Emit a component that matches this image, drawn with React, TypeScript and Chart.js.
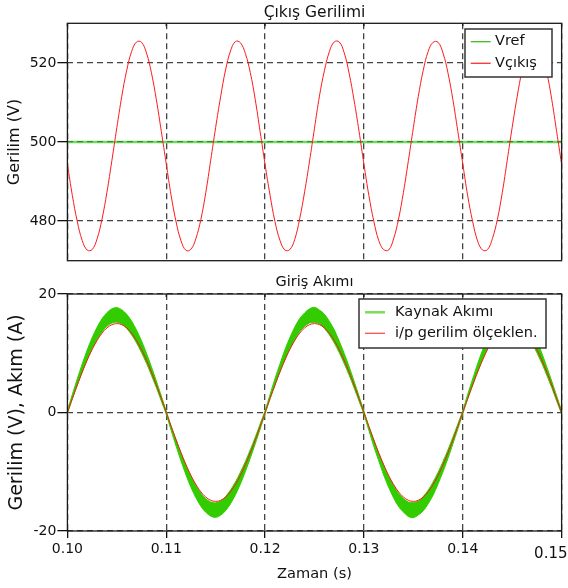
import { useEffect, useRef } from "react";
import { Chart, registerables } from "chart.js";

Chart.register(...registerables);

// ---------- data ----------
const T_START = 0.1;
const T_STEP = 0.0005;
const X_TICKS = [0.1, 0.11, 0.12, 0.13, 0.14, 0.15];
const TOP_Y_TICKS = [480, 500, 520];
const BOT_Y_TICKS = [-20, 0, 20];

const VREF_T = [0.1, 0.15];
const VREF = [500, 500];

// Output voltage (V), sampled every 0.5 ms from 0.100 s to 0.150 s
const VOUT = [
  494.4, 486.5, 479.9, 475.1, 472.7, 472.8, 475.5, 480.5, 487.3, 495.3,
  503.6, 511.5, 518.1, 522.9, 525.3, 525.2, 522.5, 517.5, 510.7, 502.7,
  494.5, 486.4, 479.8, 475.0, 472.6, 472.9, 475.6, 480.4, 487.2, 495.4,
  503.7, 511.4, 518.2, 523.0, 525.4, 525.1, 522.4, 517.6, 510.8, 502.6,
  494.3, 486.6, 479.9, 475.2, 472.7, 472.8, 475.4, 480.6, 487.4, 495.2,
  503.5, 511.6, 518.0, 522.8, 525.3, 525.3, 522.6, 517.4, 510.6, 502.8,
  494.4, 486.5, 480.0, 475.1, 472.8, 472.7, 475.5, 480.5, 487.3, 495.3,
  503.6, 511.5, 518.1, 522.9, 525.2, 525.2, 522.5, 517.5, 510.7, 502.7,
  494.5, 486.4, 479.9, 475.0, 472.7, 472.8, 475.6, 480.4, 487.2, 495.4,
  503.7, 511.4, 518.1, 523.0, 525.3, 525.1, 522.4, 517.6, 510.8, 502.6,
  494.4,
];

// Scaled input voltage (i/p gerilim ölçeklen.)
const VIN_SCALED = [
  0, 2.35, 4.64, 6.81, 8.82, 10.61, 12.14, 13.37, 14.27, 14.82,
  15.0, 14.82, 14.27, 13.37, 12.14, 10.61, 8.82, 6.81, 4.64, 2.35,
  0, -2.35, -4.64, -6.81, -8.82, -10.61, -12.14, -13.37, -14.27, -14.82,
  -15.0, -14.82, -14.27, -13.37, -12.14, -10.61, -8.82, -6.81, -4.64, -2.35,
  0, 2.35, 4.64, 6.81, 8.82, 10.61, 12.14, 13.37, 14.27, 14.82,
  15.0, 14.82, 14.27, 13.37, 12.14, 10.61, 8.82, 6.81, 4.64, 2.35,
  0, -2.35, -4.64, -6.81, -8.82, -10.61, -12.14, -13.37, -14.27, -14.82,
  -15.0, -14.82, -14.27, -13.37, -12.14, -10.61, -8.82, -6.81, -4.64, -2.35,
  0, 2.35, 4.64, 6.81, 8.82, 10.61, 12.14, 13.37, 14.27, 14.82,
  15.0, 14.82, 14.27, 13.37, 12.14, 10.61, 8.82, 6.81, 4.64, 2.35,
  0,
];

// Source current ripple band (Kaynak Akımı): upper and lower edges
const IS_UPPER = [
  0.3, 3.03, 5.68, 8.2, 10.53, 12.61, 14.38, 15.81, 16.85, 17.49,
  17.7, 17.34, 16.57, 15.41, 13.9, 12.08, 10.0, 7.72, 5.31, 2.81,
  0.25, -2.3, -4.6, -6.85, -8.9, -10.75, -12.3, -13.6, -14.55, -15.1,
  -15.25, -14.95, -14.2, -13.1, -11.75, -10.1, -8.3, -6.3, -4.2, -1.95,
  0.3, 3.0, 5.7, 8.15, 10.55, 12.6, 14.4, 15.85, 16.8, 17.5,
  17.75, 17.3, 16.6, 15.4, 13.95, 12.05, 10.0, 7.75, 5.3, 2.8,
  0.25, -2.32, -4.58, -6.86, -8.88, -10.77, -12.28, -13.62, -14.53, -15.12,
  -15.22, -14.97, -14.18, -13.12, -11.73, -10.12, -8.28, -6.32, -4.18, -1.96,
  0.3, 3.05, 5.65, 8.2, 10.5, 12.6, 14.35, 15.8, 16.85, 17.45,
  17.7, 17.35, 16.55, 15.4, 13.9, 12.1, 10.0, 7.7, 5.3, 2.8,
  0.3,
];
const IS_LOWER = [
  -0.2, 2.3, 4.6, 6.85, 8.9, 10.75, 12.3, 13.6, 14.55, 15.1,
  15.25, 14.95, 14.2, 13.1, 11.75, 10.1, 8.3, 6.3, 4.2, 1.95,
  -0.3, -3.03, -5.68, -8.2, -10.53, -12.61, -14.38, -15.81, -16.85, -17.49,
  -17.7, -17.34, -16.57, -15.41, -13.9, -12.08, -10.0, -7.72, -5.31, -2.81,
  -0.25, 2.32, 4.58, 6.86, 8.88, 10.77, 12.28, 13.62, 14.53, 15.12,
  15.22, 14.97, 14.18, 13.12, 11.73, 10.12, 8.28, 6.32, 4.18, 1.96,
  -0.3, -3.0, -5.7, -8.15, -10.55, -12.6, -14.4, -15.85, -16.8, -17.55,
  -17.75, -17.3, -16.6, -15.4, -13.95, -12.05, -10.0, -7.75, -5.3, -2.8,
  -0.25, 2.3, 4.6, 6.85, 8.9, 10.75, 12.3, 13.6, 14.55, 15.1,
  15.25, 14.95, 14.2, 13.1, 11.75, 10.1, 8.3, 6.3, 4.2, 1.95,
  -0.25,
];

const TITLE_TOP = "Çıkış Gerilimi";
const TITLE_BOTTOM = "Giriş Akımı";
const Y_TITLE_TOP = "Gerilim (V)";
const Y_TITLE_BOTTOM = "Gerilim (V), Akım (A)";
const X_TITLE = "Zaman (s)";
const LABEL_VREF = "Vref";
const LABEL_VOUT = "Vçıkış";
const LABEL_IS = "Kaynak Akımı";
const LABEL_VIN = "i/p gerilim ölçeklen.";

// ---------- styling ----------
const FONT = "'DejaVu Sans', Verdana, sans-serif";
const TXT = "#111";
const RED = "#ff1a1a";
const GREEN = "#33cc00";
const W = 568;
const PLOT_LEFT = 67.4;
const PAD_RIGHT = 6.4;

const times = VOUT.map((_, i) => +(T_START + i * T_STEP).toFixed(5));
const pts = (ys: number[], xs: number[] = times) => ys.map((y, i) => ({ x: xs[i], y }));

const decor = {
  id: "decor",
  afterDraw(chart: any, _args: any, opts: any) {
    const { ctx, chartArea: a } = chart;
    ctx.save();
    ctx.strokeStyle = "#1a1a1a";
    ctx.lineWidth = 1.3;
    ctx.setLineDash([]);
    ctx.strokeRect(a.left, a.top, a.right - a.left, a.bottom - a.top);
    const xs = chart.scales.x;
    X_TICKS.forEach((v) => {
      const px = xs.getPixelForValue(v);
      ctx.beginPath();
      ctx.moveTo(px, a.top);
      ctx.lineTo(px, a.top + 3);
      ctx.stroke();
    });
    ctx.fillStyle = TXT;
    ctx.font = `${opts.titleSize}px ${FONT}`;
    ctx.textAlign = "center";
    ctx.textBaseline = "middle";
    ctx.fillText(opts.title, (a.left + a.right) / 2, opts.titleY);
    const L = opts.legend;
    const bx = a.right - L.right - L.w;
    const by = a.top + L.top;
    ctx.fillStyle = "#fff";
    ctx.fillRect(bx, by, L.w, L.h);
    ctx.strokeStyle = "#333";
    ctx.lineWidth = 1.5;
    ctx.strokeRect(bx, by, L.w, L.h);
    ctx.font = `${L.size}px ${FONT}`;
    ctx.textAlign = "left";
    ctx.textBaseline = "middle";
    L.items.forEach((it: any, k: number) => {
      const y = by + L.firstRow + k * L.rowGap;
      ctx.strokeStyle = it.color;
      ctx.lineWidth = it.width;
      ctx.beginPath();
      ctx.moveTo(bx + L.lineX0, y);
      ctx.lineTo(bx + L.lineX0 + L.lineLen, y);
      ctx.stroke();
      ctx.fillStyle = TXT;
      ctx.fillText(it.label, bx + L.textX, y);
    });
    (opts.extra || []).forEach((e: any) => {
      ctx.font = `${e.size}px ${FONT}`;
      ctx.textAlign = e.align;
      ctx.textBaseline = "middle";
      ctx.fillStyle = TXT;
      ctx.fillText(e.text, e.x, e.y);
    });
    ctx.restore();
  },
};

const gridCommon = {
  color: "#444",
  lineWidth: 1.3,
  tickColor: "#111",
  tickWidth: 1.3,
  tickBorderDash: [],
};

const yFit = (s: any) => {
  s.width = PLOT_LEFT;
  s.paddingTop = 0;
  s.paddingBottom = 0;
};

function makeTop(canvas: HTMLCanvasElement) {
  return new Chart(canvas, {
    type: "line",
    data: {
      datasets: [
        {
          label: LABEL_VOUT,
          data: pts(VOUT),
          borderColor: RED,
          borderWidth: 1,
          pointRadius: 0,
          tension: 0.4,
          order: 0,
        },
        {
          label: LABEL_VREF,
          data: pts(VREF, VREF_T),
          borderColor: "rgba(40,190,20,0.65)",
          borderWidth: 2.4,
          pointRadius: 0,
          order: 1,
        },
      ],
    },
    options: {
      responsive: false,
      animation: false,
      events: [],
      layout: { padding: { top: 23.3, bottom: 1.3, left: 0, right: PAD_RIGHT } },
      plugins: {
        legend: { display: false },
        tooltip: { enabled: false },
        decor: {
          title: TITLE_TOP,
          titleY: 13,
          titleSize: 15.5,
          legend: {
            right: 9.6, top: 5.7, w: 87, h: 48, size: 14.5,
            lineX0: 5.7, lineLen: 20, textX: 30, firstRow: 12.7, rowGap: 21.6,
            items: [
              { label: LABEL_VREF, color: "#3cbf1c", width: 1.3 },
              { label: LABEL_VOUT, color: "#ff3030", width: 1.3 },
            ],
          },
        },
      } as any,
      scales: {
        x: {
          type: "linear",
          min: 0.1,
          max: 0.15,
          afterBuildTicks: (s: any) => { s.ticks = X_TICKS.map((v) => ({ value: v })); },
          afterFit: (s: any) => { s.height = 0; s.paddingLeft = 0; s.paddingRight = 0; },
          ticks: { display: false },
          grid: { ...gridCommon, drawTicks: false, tickLength: 0 },
          border: { display: false, dash: [6, 4] },
        },
        y: {
          min: 470,
          max: 530,
          afterBuildTicks: (s: any) => { s.ticks = TOP_Y_TICKS.map((v) => ({ value: v })); },
          afterFit: yFit,
          ticks: { color: TXT, font: { family: FONT, size: 14 }, padding: 1 },
          grid: { ...gridCommon, drawTicks: true, tickLength: 10 },
          border: { display: false, dash: [6, 4] },
          title: { display: true, text: Y_TITLE_TOP, color: TXT, font: { family: FONT, size: 16 }, padding: { top: 5, bottom: 0 } },
        },
      },
    },
    plugins: [decor as any],
  } as any);
}

function makeBottom(canvas: HTMLCanvasElement) {
  return new Chart(canvas, {
    type: "line",
    data: {
      datasets: [
        {
          label: LABEL_VIN,
          data: pts(VIN_SCALED),
          borderColor: RED,
          borderWidth: 1,
          pointRadius: 0,
          tension: 0.4,
          order: 0,
        },
        {
          label: LABEL_IS,
          data: pts(IS_UPPER),
          borderColor: GREEN,
          borderWidth: 1,
          pointRadius: 0,
          tension: 0.3,
          order: 2,
        },
        {
          label: LABEL_IS + " (alt)",
          data: pts(IS_LOWER),
          borderColor: GREEN,
          backgroundColor: GREEN,
          borderWidth: 1,
          pointRadius: 0,
          tension: 0.3,
          fill: "-1",
          order: 1,
        },
      ],
    },
    options: {
      responsive: false,
      animation: false,
      events: [],
      layout: { padding: { top: 32, bottom: 0, left: 0, right: PAD_RIGHT } },
      plugins: {
        legend: { display: false },
        tooltip: { enabled: false },
        filler: { propagate: false },
        decor: {
          title: TITLE_BOTTOM,
          titleY: 20,
          titleSize: 14.5,
          legend: {
            right: 15.6, top: 5, w: 187, h: 49, size: 14.5,
            lineX0: 6, lineLen: 20, textX: 36, firstRow: 13.3, rowGap: 21,
            items: [
              { label: LABEL_IS, color: "#7ddc5a", width: 2.5 },
              { label: LABEL_VIN, color: "#ff5050", width: 1.3 },
            ],
          },
          extra: [{ text: X_TICKS[X_TICKS.length - 1].toFixed(2), x: 567.5, y: 292, size: 15, align: "right" }],
        },
      } as any,
      scales: {
        x: {
          type: "linear",
          min: 0.1,
          max: 0.15,
          afterBuildTicks: (s: any) => { s.ticks = X_TICKS.map((v) => ({ value: v })); },
          afterFit: (s: any) => { s.height = 57; s.paddingLeft = 0; s.paddingRight = 0; },
          ticks: {
            color: TXT,
            font: { family: FONT, size: 14 },
            padding: 3,
            maxRotation: 0,
            autoSkip: false,
            callback: (v: any, i: number) => (i === X_TICKS.length - 1 ? "" : Number(v).toFixed(2)),
          },
          grid: { ...gridCommon, drawTicks: true, tickLength: 7 },
          border: { display: false, dash: [6, 4] },
          title: { display: true, text: X_TITLE, color: TXT, font: { family: FONT, size: 14.6 }, padding: { top: 0, bottom: 5 } },
        },
        y: {
          min: -20,
          max: 20,
          afterBuildTicks: (s: any) => { s.ticks = BOT_Y_TICKS.map((v) => ({ value: v })); },
          afterFit: yFit,
          ticks: { color: TXT, font: { family: FONT, size: 14 }, padding: 1 },
          grid: { ...gridCommon, drawTicks: true, tickLength: 10 },
          border: { display: false, dash: [6, 4] },
          title: { display: true, text: Y_TITLE_BOTTOM, color: TXT, font: { family: FONT, size: 19 }, padding: { top: 6, bottom: 0 } },
        },
      },
    },
    plugins: [decor as any],
  } as any);
}

export default function App() {
  const topRef = useRef<HTMLCanvasElement>(null);
  const botRef = useRef<HTMLCanvasElement>(null);
  useEffect(() => {
    const c1 = makeTop(topRef.current!);
    const c2 = makeBottom(botRef.current!);
    return () => {
      c1.destroy();
      c2.destroy();
    };
  }, []);
  return (
    <div style={{ position: "absolute", left: 0, top: 0, width: W, height: 588, background: "#fff" }}>
      <canvas ref={topRef} width={W} height={262} style={{ position: "absolute", left: 0, top: 0, display: "block" }} />
      <canvas ref={botRef} width={W} height={326} style={{ position: "absolute", left: 0, top: 262, display: "block" }} />
    </div>
  );
}
